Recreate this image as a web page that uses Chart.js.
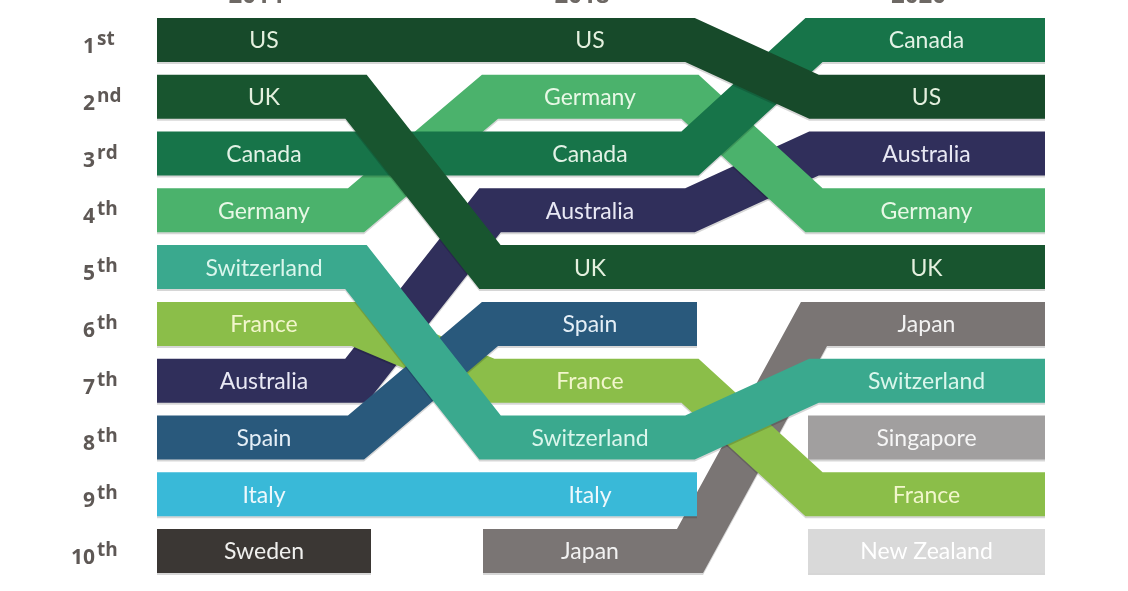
<!DOCTYPE html>
<html><head><meta charset="utf-8">
<script src="https://cdn.jsdelivr.net/npm/chart.js@4.4.1/dist/chart.umd.min.js"></script>
<style>html,body{margin:0;padding:0;background:#fff;overflow:hidden}#wrap{width:1128px;height:591px;position:relative}</style>
</head><body><div id="wrap"><canvas id="c" width="1128" height="591"></canvas></div>
<script>
// ---------- data ----------
const years = ['2014', '2018', '2020'];
const countries = ['US', 'UK', 'Canada', 'Germany', 'Switzerland', 'France', 'Australia', 'Spain', 'Italy', 'Sweden', 'Japan', 'Singapore', 'New Zealand'];
const rank2014 = [1, 2, 3, 4, 5, 6, 7, 8, 9, 10, null, null, null];
const rank2018 = [1, 5, 3, 2, 8, 7, 4, 6, 9, null, 10, null, null];
const rank2020 = [2, 5, 1, 4, 7, 9, 3, null, null, null, 6, 8, 10];
const bandColors = ['#174a2a', '#18552f', '#177449', '#4bb26c', '#3aa98e', '#8bbe49', '#302f5b', '#29597c', '#39b9d8', '#3b3734', '#7a7574', '#a19f9f', '#d9d9d9'];
const textColors = ['#e4f0de', '#e4f0de', '#e2f2e6', '#e8f8e6', '#daf6ec', '#f2f6cc', '#e8e8f4', '#e4eef6', '#eef8fc', '#f0f0ee', '#f2f2f2', '#f6f6f6', '#ffffff'];
const rankNumbers = ['1', '2', '3', '4', '5', '6', '7', '8', '9', '10'];
const rankSuffixes = ['st', 'nd', 'rd', 'th', 'th', 'th', 'th', 'th', 'th', 'th'];
// stacking: first = drawn on top
const stackTopFirst = ['US', 'UK', 'Canada', 'Germany', 'Switzerland', 'Spain', 'France', 'Australia', 'Italy', 'Japan', 'Sweden', 'Singapore', 'New Zealand'];

// ---------- layout (x scale units) ----------
const ranksByYear = [rank2014, rank2018, rank2020];
const blockStart = [157, 483, 808];
const blockEnd = [371, 697, 1045];
const transStart = [356, 690];
const transEnd = [490, 814];
const BAND = 44;

const datasets = countries.map((name, c) => {
  const pts = [];
  for (let i = 0; i < years.length; i++) {
    const r = ranksByYear[i][c];
    if (r == null) continue;
    const prev = i > 0 && ranksByYear[i - 1][c] != null;
    const next = i < years.length - 1 && ranksByYear[i + 1][c] != null;
    pts.push({ x: prev ? transEnd[i - 1] : blockStart[i], y: r });
    pts.push({ x: next ? transStart[i] : blockEnd[i], y: r });
  }
  return {
    label: name,
    data: pts,
    borderColor: bandColors[c],
    backgroundColor: bandColors[c],
    borderWidth: BAND,
    borderJoinStyle: 'miter',
    borderCapStyle: 'butt',
    pointRadius: 0,
    pointHoverRadius: 0,
    tension: 0,
    fill: false,
    clip: false,
    order: stackTopFirst.indexOf(name)
  };
});

const shadowPlugin = {
  id: 'bandShadow',
  beforeDatasetDraw(chart) {
    const ctx = chart.ctx;
    ctx.save();
    ctx.shadowColor = 'rgba(0,0,0,0.16)';
    ctx.shadowOffsetY = 2;
    ctx.shadowBlur = 0;
  },
  afterDatasetDraw(chart) { chart.ctx.restore(); }
};

const LABEL_FONT = '23px Lato, "Open Sans", sans-serif';
const labelPlugin = {
  id: 'bandLabels',
  afterDatasetsDraw(chart) {
    const ctx = chart.ctx;
    const xs = chart.scales.x, ys = chart.scales.y;
    ctx.save();
    for (let i = 0; i < years.length; i++) {
      const cx = xs.getPixelForValue((blockStart[i] + blockEnd[i]) / 2);
      ctx.font = LABEL_FONT;
      ctx.textAlign = 'center';
      ctx.textBaseline = 'middle';
      countries.forEach((name, c) => {
        const r = ranksByYear[i][c];
        if (r == null) return;
        ctx.fillStyle = textColors[c];
        ctx.fillText(name, cx, ys.getPixelForValue(r) + 1);
      });
      // year headings (cropped at top)
      ctx.fillStyle = '#6d6864';
      ctx.font = 'bold 24px "Open Sans", sans-serif';
      ctx.textBaseline = 'alphabetic';
      ctx.fillText(years[i], cx - 8, 3);
    }
    // rank labels
    rankNumbers.forEach((n, k) => {
      const y = ys.getPixelForValue(k + 1);
      ctx.fillStyle = '#5e5855';
      ctx.textBaseline = 'alphabetic';
      ctx.textAlign = 'right';
      ctx.font = 'bold 21px "Open Sans", sans-serif';
      ctx.fillText(n, 95, y + 13);
      ctx.textAlign = 'left';
      ctx.font = 'bold 19px "Open Sans", sans-serif';
      ctx.fillText(rankSuffixes[k], 97, y + 5);
    });
    ctx.restore();
  }
};

new Chart(document.getElementById('c'), {
  type: 'line',
  data: { datasets },
  options: {
    responsive: false,
    animation: false,
    devicePixelRatio: 1,
    layout: { padding: { left: 157, right: 83, top: 11.6, bottom: 11.6 } },
    scales: {
      x: { type: 'linear', min: 157, max: 1045, display: false },
      y: { type: 'linear', min: 0.5, max: 10.5, reverse: true, display: false }
    },
    plugins: { legend: { display: false }, tooltip: { enabled: false } }
  },
  plugins: [shadowPlugin, labelPlugin]
});
</script></body></html>
